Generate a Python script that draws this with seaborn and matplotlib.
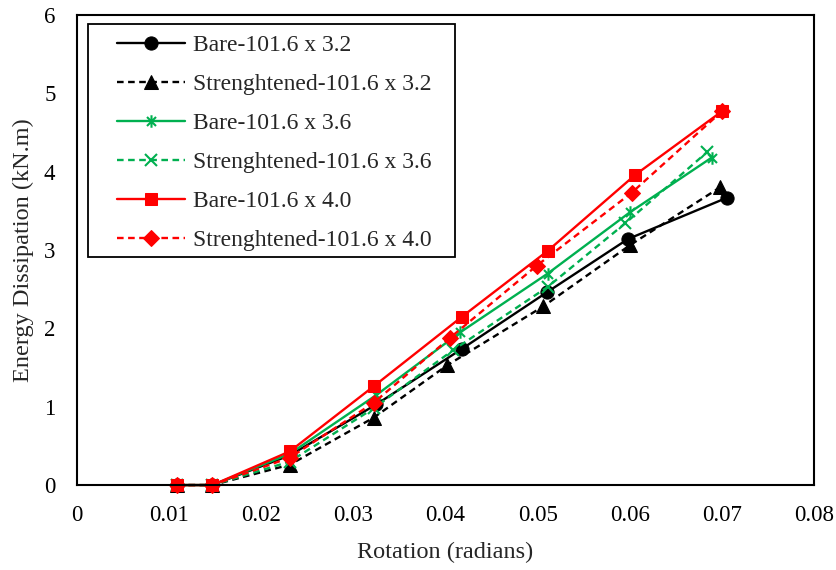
import numpy as np
import pandas as pd
import matplotlib
matplotlib.use("Agg")
import matplotlib.pyplot as plt
from matplotlib.path import Path
from matplotlib.patches import Rectangle
import seaborn as sns

# ---- data ----
labels = ["Bare-101.6 x 3.2", "Strenghtened-101.6 x 3.2",
          "Bare-101.6 x 3.6", "Strenghtened-101.6 x 3.6",
          "Bare-101.6 x 4.0", "Strenghtened-101.6 x 4.0"]

x_b32 = [0.0109, 0.0147, 0.0231, 0.0325, 0.0418, 0.0510, 0.0598, 0.0706]
y_b32 = [0.0, 0.0, 0.38, 1.03, 1.74, 2.46, 3.14, 3.67]
x_s32 = [0.0109, 0.0147, 0.0231, 0.0322, 0.0402, 0.0506, 0.0600, 0.0698]
y_s32 = [0.0, 0.0, 0.26, 0.86, 1.53, 2.28, 3.06, 3.80]
x_b36 = [0.0109, 0.0147, 0.0231, 0.0325, 0.0416, 0.0511, 0.0600, 0.0689]
y_b36 = [0.0, 0.0, 0.40, 1.15, 1.95, 2.70, 3.48, 4.18]
x_s36 = [0.0109, 0.0147, 0.0231, 0.0322, 0.0408, 0.0511, 0.0595, 0.0684]
y_s36 = [0.0, 0.0, 0.30, 0.98, 1.72, 2.53, 3.34, 4.25]
x_b40 = [0.0109, 0.0147, 0.0231, 0.0322, 0.0418, 0.0511, 0.0606, 0.0700]
y_b40 = [0.0, 0.0, 0.43, 1.26, 2.15, 2.99, 3.96, 4.77]
x_s40 = [0.0109, 0.0147, 0.0231, 0.0322, 0.0405, 0.0499, 0.0602, 0.0700]
y_s40 = [0.0, 0.0, 0.35, 1.05, 1.88, 2.80, 3.73, 4.77]

x_ticks = [0, 0.01, 0.02, 0.03, 0.04, 0.05, 0.06, 0.07, 0.08]
x_ticklabels = ["0", "0.01", "0.02", "0.03", "0.04", "0.05", "0.06", "0.07", "0.08"]
y_ticks = [0, 1, 2, 3, 4, 5, 6]

xs = [x_b32, x_s32, x_b36, x_s36, x_b40, x_s40]
ys = [y_b32, y_s32, y_b36, y_s36, y_b40, y_s40]

# ---- style ----
sns.set_style("white")
plt.rcParams["font.family"] = ["Liberation Serif", "DejaVu Serif"]

BLACK = "#000000"
GREEN = "#00B050"
RED = "#FF0000"

# asterisk marker: vertical line + x
ast = Path([(0, -1), (0, 1), (-0.72, -0.72), (0.72, 0.72), (-0.72, 0.72), (0.72, -0.72)],
           [Path.MOVETO, Path.LINETO, Path.MOVETO, Path.LINETO, Path.MOVETO, Path.LINETO])

solid = "-"
dashed = (0, (2.8, 1.9))
styles = [
    dict(color=BLACK, marker="o", linestyle=solid, markersize=9.5),
    dict(color=BLACK, marker="^", linestyle=dashed, markersize=9.5),
    dict(color=GREEN, marker=ast, linestyle=solid, markersize=9, markeredgewidth=1.5),
    dict(color=GREEN, marker="x", linestyle=dashed, markersize=9, markeredgewidth=1.5),
    dict(color=RED, marker="s", linestyle=solid, markersize=9),
    dict(color=RED, marker="D", linestyle=dashed, markersize=8),
]

fig = plt.figure(figsize=(8.37, 5.70), dpi=100)
ax = fig.add_axes([0.092, 0.149, 0.8805, 0.8247])

for lab, x, y, st in zip(labels, xs, ys, styles):
    df = pd.DataFrame({"Rotation": x, "Energy": y})
    kws = dict(st)
    kws["markeredgecolor"] = kws["color"]
    if not (kws["marker"] == "x" or kws["marker"] is ast):
        kws["markerfacecolor"] = kws["color"]
    sns.lineplot(data=df, x="Rotation", y="Energy", sort=False, ax=ax,
                 label=lab, linewidth=1.7, estimator=None, clip_on=False, **kws)

ax.set_xlim(0, 0.08)
ax.set_ylim(0, 6)
ax.set_xticks(x_ticks)
ax.set_xticklabels(x_ticklabels)
ax.set_yticks(y_ticks)
ax.tick_params(axis="both", direction="in", length=5, width=1.2, labelsize=16.5,
               colors="black")
ax.tick_params(axis="x", pad=14)
ax.tick_params(axis="y", pad=15.5)
for sp in ax.spines.values():
    sp.set_color("black")
    sp.set_linewidth(1.5)
    sp.set_visible(True)

ax.set_xlabel("Rotation (radians)", fontsize=17.5, labelpad=12)
ax.set_ylabel("Energy Dissipation (kN.m)", fontsize=17.5, labelpad=7)

leg = ax.legend(loc="upper left", bbox_to_anchor=(0.0543, 0.9575), fontsize=17,
                frameon=False, handlelength=2.88, handletextpad=0.34,
                labelspacing=0.74, borderpad=0, borderaxespad=0)
leg.set_zorder(5)

# legend frame
ax.add_patch(Rectangle((0.0149, 0.485), 0.513 - 0.0149, 0.981 - 0.485,
                       transform=ax.transAxes, facecolor="white", edgecolor="black",
                       linewidth=1.3, zorder=4))

fig.savefig("out.png", dpi=100)
